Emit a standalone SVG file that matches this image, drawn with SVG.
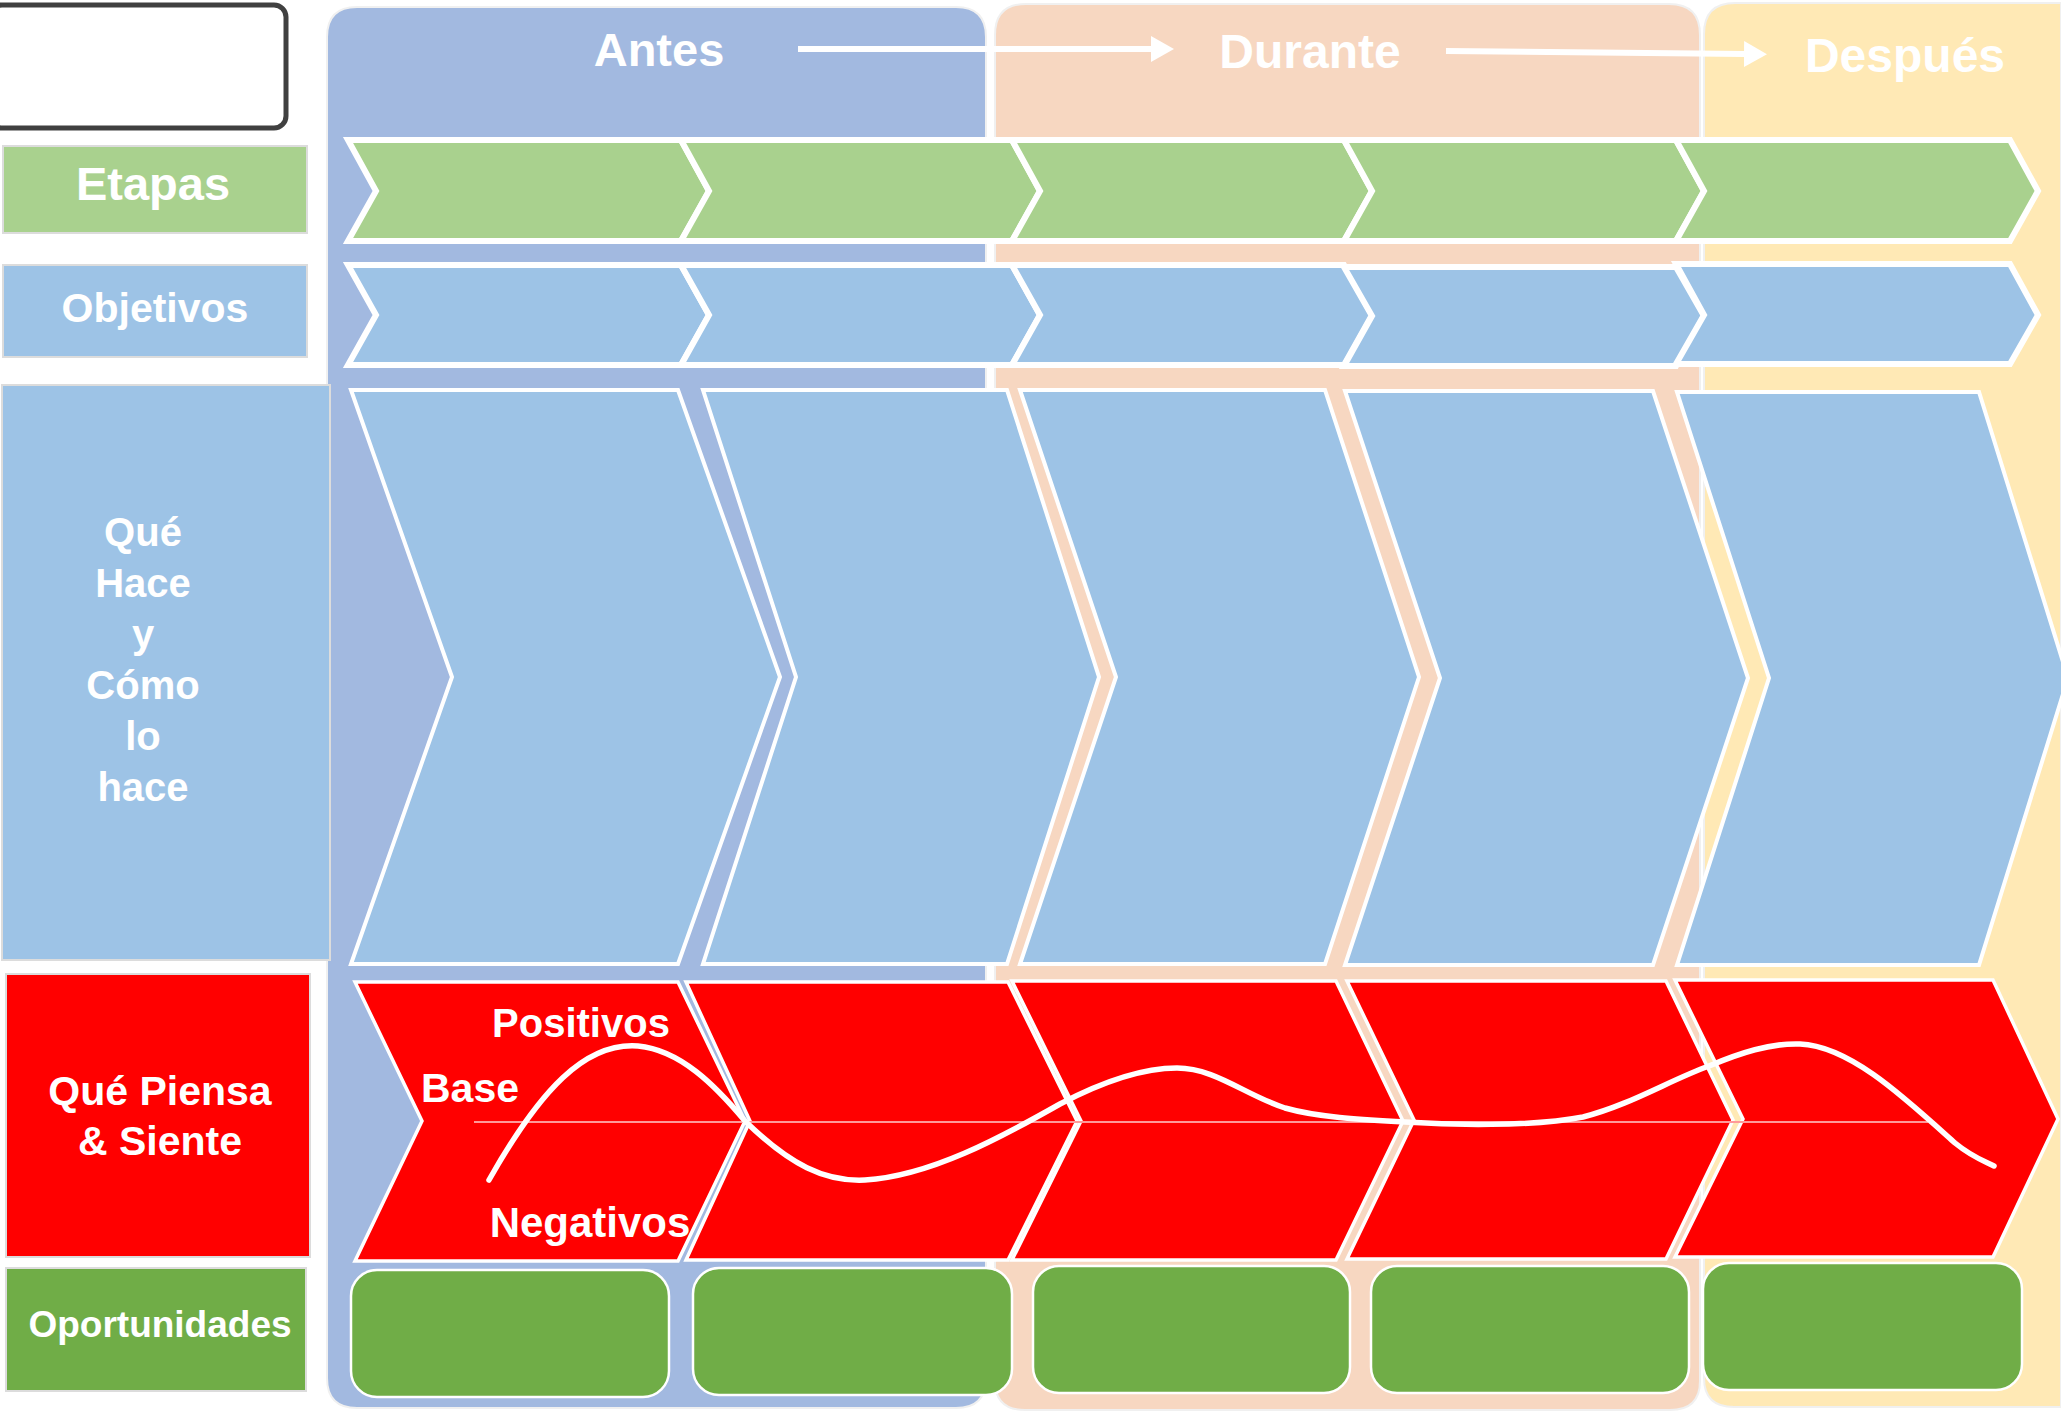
<svg xmlns="http://www.w3.org/2000/svg" width="2061" height="1411" viewBox="0 0 2061 1411">
<defs>
<style>
.t{font-family:"Liberation Sans",Arial,sans-serif;font-weight:bold;fill:#fff;text-anchor:middle}
.lab{stroke:#dcdcdc;stroke-width:2}
.eta{fill:#a9d18e;stroke:#fff;stroke-width:6;stroke-linejoin:miter}
.obj{fill:#9dc3e6;stroke:#fff;stroke-width:6;stroke-linejoin:miter}
.big{fill:#9dc3e6;stroke:#fff;stroke-width:4}
.red{fill:#ff0000;stroke:#fff;stroke-width:3.5}
.opp{fill:#70ad47;stroke:#fff;stroke-width:2.5}
.arr{stroke:#fff;stroke-width:6;fill:none}
</style>
<marker id="ah" markerUnits="userSpaceOnUse" markerWidth="24" markerHeight="26" viewBox="0 0 24 26" refX="1" refY="13" orient="auto">
<path d="M0,0 L23,13 L0,26 z" fill="#fff"/>
</marker>
</defs>
<rect width="2061" height="1411" fill="#fff"/>

<!-- phase panels -->
<g id="phase-antes">
<path d="M327,1378 V37 Q327,7 357,7 H956 Q986,7 986,37 V1378 Q986,1408 956,1408 H357 Q327,1408 327,1378 Z" fill="#a2b9e0" stroke="#f0f0f0" stroke-width="2"/>
</g>
<g id="phase-durante">
<path d="M995,1381 V35 Q995,4 1026,4 H1669 Q1700,4 1700,35 V1381 Q1700,1410 1670,1410 H1025 Q995,1410 995,1381 Z" fill="#f7d7c1" stroke="#f0f0f0" stroke-width="2"/>
</g>
<g id="phase-despues">
<path d="M1704,1378 V34 Q1704,3 1735,3 H2061 V1407 H1734 Q1704,1407 1704,1378 Z" fill="#ffe9b5" stroke="#f0f0f0" stroke-width="2"/>
</g>

<g id="title-box">
<rect x="-10" y="5" width="296" height="123" rx="12" fill="#fff" stroke="#404040" stroke-width="5"/>
</g>

<g id="headers">
<text class="t" x="659" y="66" font-size="47">Antes</text>
<text class="t" x="1310" y="68" font-size="48">Durante</text>
<text class="t" x="1905" y="72" font-size="48">Después</text>
</g>

<!-- row labels -->
<g id="label-etapas">
<rect class="lab" x="3" y="146" width="304" height="87" fill="#a9d18e"/>
<text class="t" x="153" y="200" font-size="47">Etapas</text>
</g>
<g id="label-objetivos">
<rect class="lab" x="3" y="265" width="304" height="92" fill="#9dc3e6"/>
<text class="t" x="155" y="322" font-size="41">Objetivos</text>
</g>
<g id="label-que-hace">
<rect class="lab" x="2" y="385" width="328" height="575" fill="#9dc3e6"/>
<text class="t" font-size="40"><tspan x="143" y="546">Qué</tspan><tspan x="143" y="597">Hace</tspan><tspan x="143" y="648">y</tspan><tspan x="143" y="699">Cómo</tspan><tspan x="143" y="750">lo</tspan><tspan x="143" y="801">hace</tspan></text>
</g>
<g id="label-piensa">
<rect class="lab" x="6" y="974" width="304" height="283" fill="#ff0000"/>
<text class="t" font-size="41"><tspan x="160" y="1105">Qué Piensa</tspan><tspan x="160" y="1155">&amp; Siente</tspan></text>
</g>
<g id="label-oportunidades">
<rect class="lab" x="6" y="1268" width="300" height="123" fill="#70ad47"/>
<text class="t" x="160" y="1337" font-size="37">Oportunidades</text>
</g>

<!-- Etapas chevrons -->
<g id="etapas-row">
<polygon class="eta" points="348,140 681,140 709,191 681,241 348,241 376,191"/>
<polygon class="eta" points="681,140 1012,140 1040,191 1012,241 681,241 709,191"/>
<polygon class="eta" points="1012,140 1344,140 1372,191 1344,241 1012,241 1040,191"/>
<polygon class="eta" points="1344,140 1676,140 1704,191 1676,241 1344,241 1372,191"/>
<polygon class="eta" points="1676,140 2010,140 2038,191 2010,241 1676,241 1704,191"/>
</g>
<!-- Objetivos chevrons -->
<g id="objetivos-row">
<polygon class="obj" points="348,265 681,265 709,315 681,365 348,365 376,315"/>
<polygon class="obj" points="681,265 1012,265 1040,315 1012,365 681,365 709,315"/>
<polygon class="obj" points="1012,265 1344,265 1372,315 1344,365 1012,365 1040,315"/>
<polygon class="obj" points="1344,267 1676,267 1704,316 1676,366 1344,366 1372,316"/>
<polygon class="obj" points="1676,264 2010,264 2038,315 2010,364 1676,364 1704,315"/>
</g>
<!-- Que hace chevrons -->
<g id="hace-row">
<polygon class="big" points="351,390 678,390 780,677 678,964 351,964 452,677"/>
<polygon class="big" points="703,390 1007,390 1099,677 1007,964 703,964 796,677"/>
<polygon class="big" points="1020,390 1325,390 1419,677 1325,964 1020,964 1116,677"/>
<polygon class="big" points="1345,391 1653,391 1748,678 1653,965 1345,965 1440,678"/>
<polygon class="big" points="1677,392 1979,392 2068,678 1979,965 1677,965 1769,678"/>
</g>
<!-- Piensa chevrons -->
<g id="piensa-row">
<polygon class="red" points="355,982 678,982 745,1121 678,1261 355,1261 422,1121"/>
<polygon class="red" points="686,982 1008,982 1077,1121 1008,1260 686,1260 750,1121"/>
<polygon class="red" points="1012,981 1336,981 1403,1121 1336,1260 1012,1260 1081,1121"/>
<polygon class="red" points="1347,981 1666,981 1733,1120 1666,1259 1347,1259 1414,1120"/>
<polygon class="red" points="1675,980 1993,980 2058,1119 1993,1257 1675,1257 1743,1119"/>
</g>
<!-- base line and wave -->
<g id="emotion-curve">
<line x1="474" y1="1122" x2="1928" y2="1122" stroke="#ff9a9a" stroke-width="2"/>
<path d="M489,1180 C540,1090 585,1042 638,1046 C680,1050 715,1085 745,1121 C790,1165 825,1182 865,1180 C930,1176 1000,1138 1060,1104 C1100,1083 1140,1068 1177,1068 C1215,1068 1245,1095 1285,1108 C1320,1118 1370,1120 1405,1122 C1450,1125 1530,1127 1583,1117 C1630,1105 1670,1080 1709,1066 C1740,1053 1770,1043 1800,1044 C1850,1046 1905,1098 1955,1143 C1972,1157 1984,1161 1994,1166" fill="none" stroke="#fff" stroke-width="5.5" stroke-linecap="round"/>
<text class="t" x="581" y="1037" font-size="40">Positivos</text>
<text class="t" x="470" y="1102" font-size="41">Base</text>
<text class="t" x="590" y="1237" font-size="42">Negativos</text>
</g>
<!-- Oportunidades boxes -->
<g id="opp-1"><rect class="opp" x="351" y="1270" width="318" height="127" rx="26"/></g>
<g id="opp-2"><rect class="opp" x="693" y="1268" width="319" height="127" rx="26"/></g>
<g id="opp-3"><rect class="opp" x="1033" y="1266" width="317" height="127" rx="26"/></g>
<g id="opp-4"><rect class="opp" x="1371" y="1266" width="318" height="127" rx="26"/></g>
<g id="opp-5"><rect class="opp" x="1703" y="1263" width="319" height="127" rx="26"/></g>

<!-- connectors -->
<g id="connectors">
<line class="arr" x1="798" y1="49" x2="1152" y2="49" marker-end="url(#ah)"/>
<line class="arr" x1="1446" y1="51" x2="1745" y2="54" marker-end="url(#ah)"/>
</g>
</svg>
